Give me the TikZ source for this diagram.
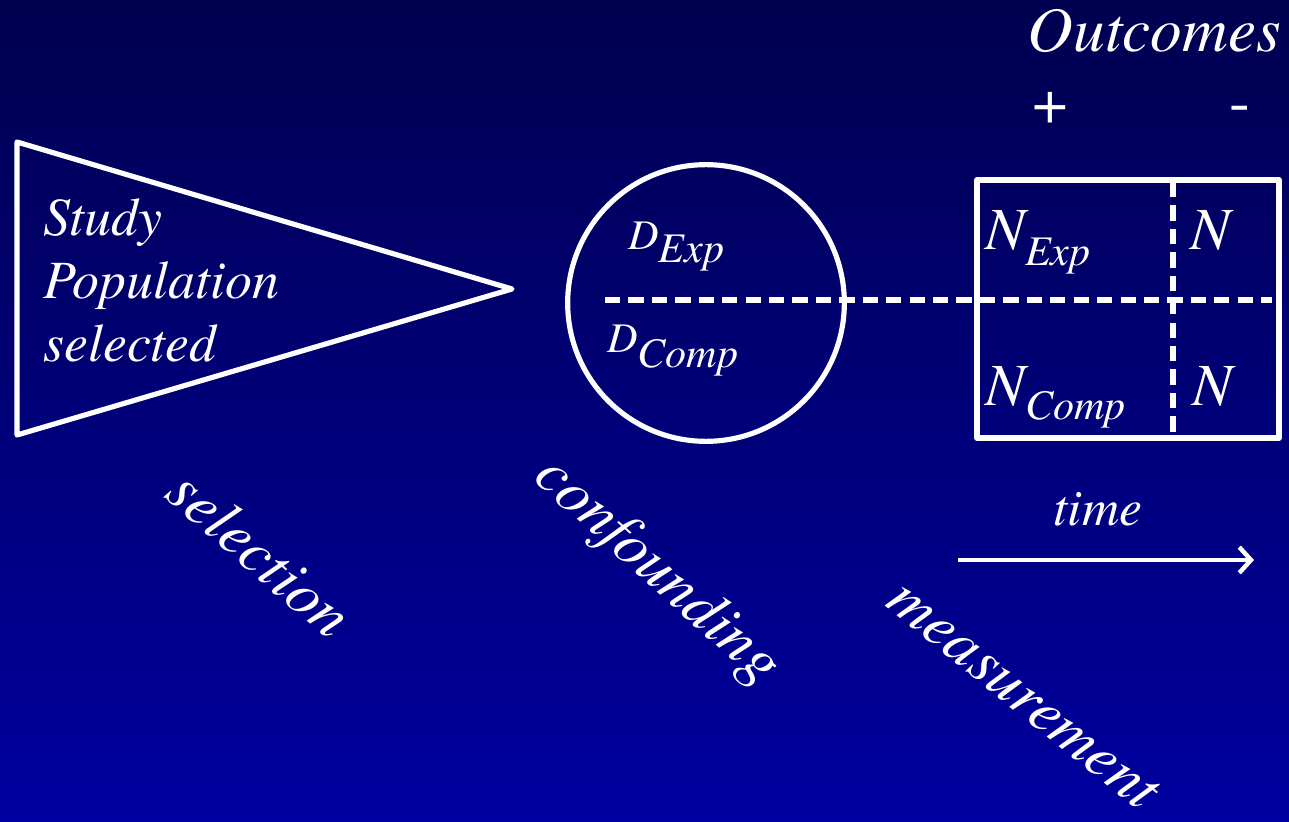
\documentclass[tikz,border=0pt]{standalone}
\usepackage{fontspec}
\setmainfont{texgyretermes}[Extension=.otf, UprightFont=*-regular, ItalicFont=*-italic,
  BoldFont=*-bold, BoldItalicFont=*-bolditalic]
\usetikzlibrary{arrows.meta, positioning}
\definecolor{deepnavy}{HTML}{000050}
\definecolor{slideblue}{HTML}{0000A0}
\newcommand{\fsz}[2]{\fontsize{#1}{#2}\selectfont}
\begin{document}
\begin{tikzpicture}[x=0.03cm, y=-0.03cm, line join=round,
  wline/.style={draw=white, line width=4.4pt},
  dline/.style={draw=white, line width=4.8pt, dash pattern=on 13pt off 7pt},
  txt/.style={text=white, inner sep=0pt, font=\itshape},
  tilted/.style={txt, font=\fsz{53}{53}\itshape, anchor=center}]

  % background
  \shade[top color=deepnavy, bottom color=slideblue] (0,0) rectangle (1289,822);
  \useasboundingbox (0,0) rectangle (1289,822);

  % study population (triangle)
  \coordinate (tri_a) at (17,142);
  \coordinate (tri_b) at (17,435);
  \coordinate (tri_c) at (512,289);
  \draw[wline] (tri_a) -- (tri_c) -- (tri_b) -- cycle;
  \node[txt, anchor=base west, align=left, font=\fsz{46}{54}\itshape] (study)
    at (43,362) {Study\\Population\\selected};

  % disease circle
  \node[circle, wline, minimum size=8.3cm, inner sep=0pt] (dcirc) at (706,303) {};
  \node[txt, anchor=base west] (dexp) at (628,250)
    {{\fsz{36}{36}D}\raisebox{-11pt}{\fsz{36}{36}Exp}};
  \node[txt, anchor=base west] (dcomp) at (607,352)
    {{\fsz{36}{36}D}\raisebox{-13pt}{\fsz{36}{36}Comp}};

  % outcome table
  \coordinate (tab_nw) at (977,180);
  \coordinate (tab_se) at (1279,438);
  \coordinate (tab_n) at (1173,182);
  \coordinate (tab_s) at (1173,436);
  \coordinate (split_w) at (605,300);
  \coordinate (split_e) at (1272,300);
  \draw[wline] (tab_nw) rectangle (tab_se);
  \draw[dline] (tab_n) -- (tab_s);
  \draw[dline] (split_w) -- (split_e);

  \node[txt, anchor=base west] (nexp) at (985,250)
    {{\fsz{51}{51}N}\raisebox{-13pt}{\fsz{36}{36}Exp}};
  \node[txt, anchor=base west, font=\fsz{51}{51}\itshape] (nexpneg) at (1190,250) {N};
  \node[txt, anchor=base west] (ncomp) at (985,405)
    {{\fsz{51}{51}N}\raisebox{-12pt}{\fsz{36}{36}Comp}};
  \node[txt, anchor=base west, font=\fsz{51}{51}\itshape] (ncompneg) at (1192,405) {N};

  % outcome header
  \node[txt, anchor=base east, font=\fsz{54}{54}\itshape] (outc) at (1281,52) {Outcomes};
  \node[txt, font=\fsz{54}{54}\upshape] (opos) at (1050,108) {+};
  \node[txt, font=\fsz{54}{54}\upshape] (oneg) at (1240,114) {-};

  % time axis
  \coordinate (time_a) at (958,560);
  \coordinate (time_b) at (1254,560);
  \draw[white, line width=3.8pt, -{Straight Barb[length=10pt, width=22pt]}] (time_a) -- (time_b);
  \node[txt, anchor=base, font=\fsz{44}{44}\itshape] (tlabel) at (1098,525) {time};

  % sources of bias
  \node[tilted, rotate=-41] (biassel) at (260,553) {selection};
  \node[tilted, rotate=-42] (biasconf) at (657,572) {confounding};
  \node[tilted, rotate=-39] (biasmeas) at (1023,696) {measurement};
\end{tikzpicture}
\end{document}
